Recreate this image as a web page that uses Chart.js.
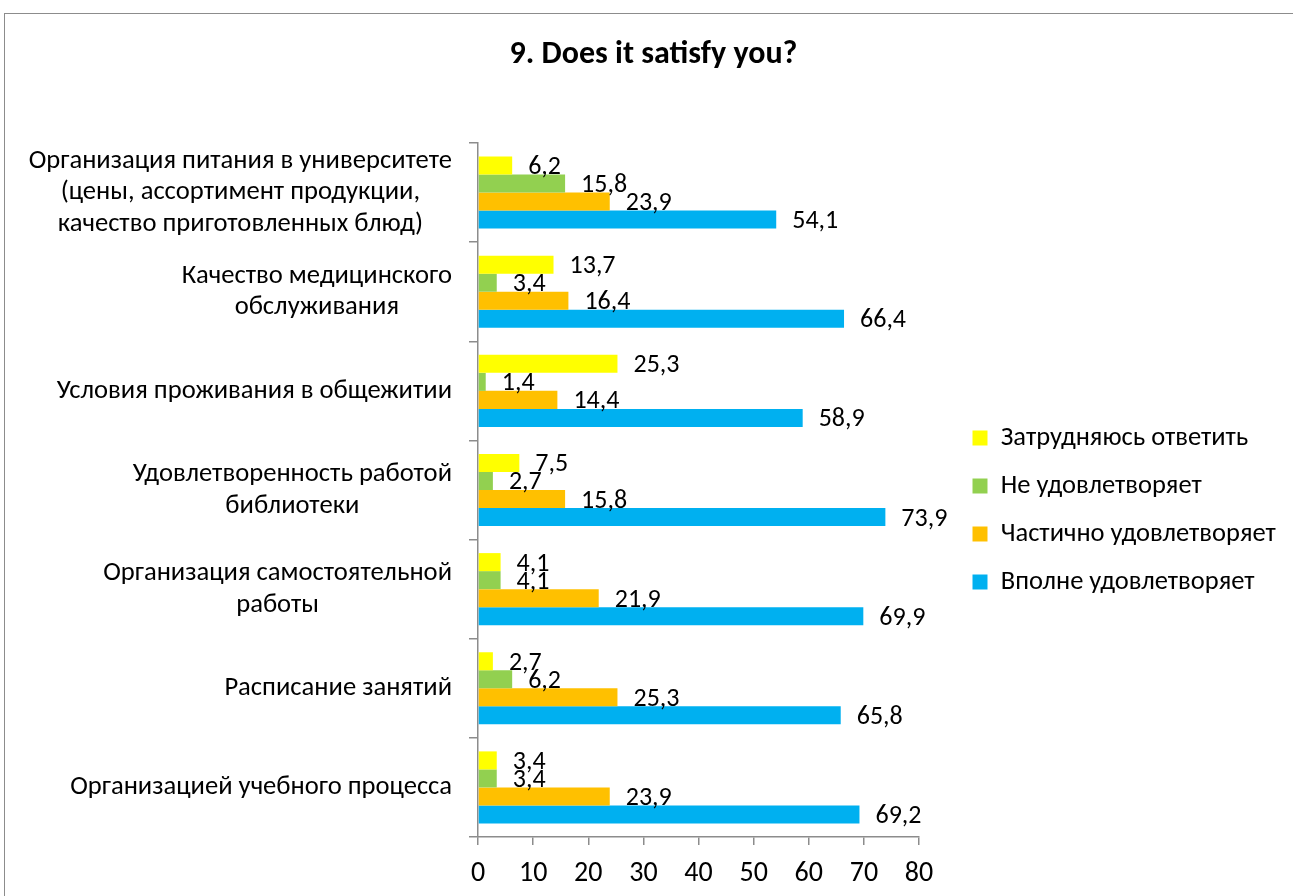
<!DOCTYPE html>
<html>
<head>
<meta charset="utf-8">
<script src="https://cdn.jsdelivr.net/npm/chart.js@4.4.1/dist/chart.umd.min.js"></script>
<style>
  html, body { margin: 0; padding: 0; background: #fff; overflow: hidden; }
  #frame { position: absolute; left: 4px; top: 13px; width: 1400px; height: 1000px;
           border-left: 1.5px solid #8c8c8c; border-top: 1.5px solid #8c8c8c; }
  #chart { position: absolute; left: 0; top: 0; }
</style>
</head>
<body>
<div id="frame"></div>
<canvas id="chart" width="1293" height="896"></canvas>
<script>
const categories = [
  ['Организация питания в университете', '(цены, ассортимент продукции,', 'качество приготовленных блюд)'],
  ['Качество медицинского', 'обслуживания'],
  ['Условия проживания в общежитии'],
  ['Удовлетворенность работой', 'библиотеки'],
  ['Организация самостоятельной', 'работы'],
  ['Расписание занятий'],
  ['Организацией учебного процесса']
];
const seriesNames = ['Затрудняюсь ответить', 'Не удовлетворяет', 'Частично удовлетворяет', 'Вполне удовлетворяет'];
const hardToSay = [6.2, 13.7, 25.3, 7.5, 4.1, 2.7, 3.4];
const notSatisfied = [15.8, 3.4, 1.4, 2.7, 4.1, 6.2, 3.4];
const partlySatisfied = [23.9, 16.4, 14.4, 15.8, 21.9, 25.3, 23.9];
const fullySatisfied = [54.1, 66.4, 58.9, 73.9, 69.9, 65.8, 69.2];
const xTicks = [0, 10, 20, 30, 40, 50, 60, 70, 80];

const FONT = "Carlito, Lato, 'Open Sans', sans-serif";
const AXIS = '#8c8c8c';
const colors = ['#FFFF00', '#92D050', '#FFC000', '#00B0F0'];
const values = [hardToSay, notSatisfied, partlySatisfied, fullySatisfied];

// value labels just past the end of each bar, decimal comma
const barLabels = {
  id: 'barLabels',
  afterDatasetsDraw(chart) {
    const ctx = chart.ctx;
    ctx.save();
    ctx.font = '26px ' + FONT;
    ctx.fillStyle = '#000';
    ctx.textAlign = 'left';
    ctx.textBaseline = 'middle';
    chart.data.datasets.forEach((ds, i) => {
      chart.getDatasetMeta(i).data.forEach((bar, j) => {
        ctx.fillText(ds.data[j].toFixed(1).replace('.', ','), bar.x + 16, bar.y + 2);
      });
    });
    ctx.restore();
  }
};

// category names: each block centred on itself, right edge near the axis
const categoryLabels = {
  id: 'categoryLabels',
  afterDraw(chart) {
    const ctx = chart.ctx;
    const y = chart.scales.y;
    const lineH = 31.7;
    ctx.save();
    ctx.font = '26.6px ' + FONT;
    ctx.fillStyle = '#000';
    ctx.textAlign = 'center';
    ctx.textBaseline = 'middle';
    categories.forEach((lines, i) => {
      const py = y.getPixelForTick(i);
      const w = Math.max(...lines.map(l => ctx.measureText(l).width));
      const cx = chart.chartArea.left - 26 - w / 2;
      lines.forEach((l, k) => {
        ctx.fillText(l, cx, py + (k - (lines.length - 1) / 2) * lineH);
      });
    });
    ctx.restore();
  }
};

// fixed legend column to the right of the plot, title nudged to frame centre
const legendPlace = {
  id: 'legendPlace',
  afterInit(chart) {
    const lg = chart.legend;
    const fit = lg.fit;
    lg.fit = function () { fit.call(this); this.width = 374; };
  },
  afterLayout(chart) {
    const lg = chart.legend;
    lg.left = chart.chartArea.right + 32;
    lg.right = lg.left + lg.width;
    lg.top += 62;
    lg.bottom += 62;
    const tb = chart.titleBlock;
    tb.left += 7;
    tb.right += 7;
  }
};

new Chart(document.getElementById('chart'), {
  type: 'bar',
  data: {
    labels: categories,
    datasets: seriesNames.map((name, i) => ({
      label: name,
      data: values[i],
      backgroundColor: colors[i],
      borderWidth: 0,
      categoryPercentage: 0.727,
      barPercentage: 1.0
    }))
  },
  options: {
    indexAxis: 'y',
    responsive: false,
    animation: false,
    layout: { padding: 0 },
    plugins: {
      title: {
        display: true,
        text: '9. Does it satisfy you?',
        color: '#000',
        font: { family: FONT, size: 32, weight: 'bold' },
        padding: { top: 36, bottom: 68.6 }
      },
      legend: {
        position: 'right',
        align: 'center',
        labels: {
          color: '#000',
          font: { family: FONT, size: 26.5 },
          boxWidth: 15,
          boxHeight: 15,
          padding: 21.5
        }
      },
      tooltip: { enabled: false }
    },
    scales: {
      x: {
        min: 0,
        max: 80,
        afterBuildTicks(scale) { scale.ticks = xTicks.map(v => ({ value: v })); },
        afterFit(scale) { scale.height = 59; },
        border: { color: AXIS, width: 1.5 },
        grid: { drawOnChartArea: false, drawTicks: true, tickLength: 8, color: AXIS, lineWidth: 1.5 },
        ticks: { color: '#000', font: { family: FONT, size: 28 }, padding: 12 }
      },
      y: {
        afterFit(scale) { scale.width = 478; },
        border: { color: AXIS, width: 1.5 },
        grid: { offset: true, drawOnChartArea: false, drawTicks: true, tickLength: 9, color: AXIS, lineWidth: 1.5 },
        ticks: { display: false }
      }
    }
  },
  plugins: [barLabels, categoryLabels, legendPlace]
});
</script>
</body>
</html>
